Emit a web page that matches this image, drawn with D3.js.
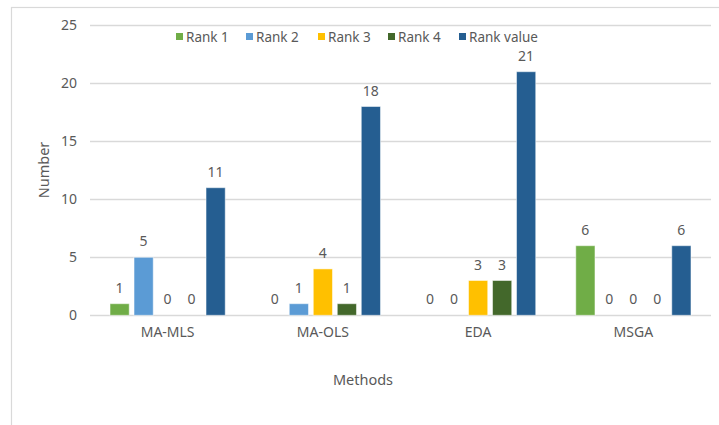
<!DOCTYPE html>
<html>
<head>
<meta charset="utf-8">
<script src="https://cdn.jsdelivr.net/npm/d3@7"></script>
<style>
  html, body { margin: 0; padding: 0; background: #fff; }
  svg { display: block; }
  text { font-family: "Noto Sans", "Open Sans", sans-serif; fill: #595959; }
</style>
</head>
<body>
<svg id="chart" width="719" height="425"></svg>
<script>
// Methods compared and the count of each ranking achieved
const methods = ["MA-MLS", "MA-OLS", "EDA", "MSGA"];
const seriesNames = ["Rank 1", "Rank 2", "Rank 3", "Rank 4", "Rank value"];
const rank1 = [1, 0, 0, 6];
const rank2 = [5, 1, 0, 0];
const rank3 = [0, 4, 3, 0];
const rank4 = [0, 1, 3, 0];
const rankValue = [11, 18, 21, 6];
const yTicks = [0, 5, 10, 15, 20, 25];
const colors = ["#70AD47", "#5B9BD5", "#FFC000", "#43682B", "#255E91"];

const seriesValues = [rank1, rank2, rank3, rank4, rankValue];

const svg = d3.select("#chart");
const W = 719, H = 425;
const plot = { left: 90, right: 711, top: 25.3, bottom: 315.3 };

// Outer chart frame (extends past the window on the right and bottom)
svg.append("rect")
  .attr("x", 11.5).attr("y", 7.5)
  .attr("width", W + 10).attr("height", H + 10)
  .attr("fill", "none").attr("stroke", "#D9D9D9").attr("stroke-width", 1.2);

const x0 = d3.scaleBand().domain(methods).range([plot.left, plot.right]).padding(0);
const groupWidth = 120;
const x1 = d3.scaleBand().domain(seriesNames).range([0, groupWidth]).paddingInner(0.2).paddingOuter(0.1);
const y = d3.scaleLinear().domain([0, 25]).range([plot.bottom, plot.top]);

// Gridlines
svg.append("g").selectAll("line").data(yTicks).join("line")
  .attr("x1", plot.left).attr("x2", plot.right)
  .attr("y1", d => Math.round(y(d)) + 0.5).attr("y2", d => Math.round(y(d)) + 0.5)
  .attr("stroke", "#D9D9D9").attr("stroke-width", 1.3);

// Y axis labels
const yAxis = d3.axisLeft(y).tickValues(yTicks).tickSize(0).tickPadding(0);
const gy = svg.append("g").attr("transform", `translate(${plot.left - 13},0)`).call(yAxis);
gy.select(".domain").remove();
gy.selectAll("text").attr("font-size", 14).attr("fill", "#595959")
  .style("font-family", '"Noto Sans", sans-serif');

// X axis category labels
const xAxis = d3.axisBottom(x0).tickSize(0).tickPadding(0);
const gx = svg.append("g").attr("transform", `translate(0,${plot.bottom + 12})`).call(xAxis);
gx.select(".domain").remove();
gx.selectAll("text").attr("font-size", 14).attr("fill", "#595959")
  .style("font-family", '"Noto Sans", sans-serif');

// Bars
const groups = svg.append("g").selectAll("g").data(methods).join("g")
  .attr("transform", d => `translate(${x0(d) + (x0.bandwidth() - groupWidth) / 2},0)`);

const cells = groups.selectAll("g").data((m, i) => seriesNames.map((s, j) => ({ s, j, v: seriesValues[j][i] })))
  .join("g");

cells.append("rect")
  .attr("x", d => x1(d.s))
  .attr("width", x1.bandwidth())
  .attr("y", d => y(d.v))
  .attr("height", d => y(0) - y(d.v))
  .attr("fill", d => colors[d.j])
  .attr("stroke", "#ffffff").attr("stroke-opacity", 0.5).attr("stroke-width", 1);

cells.append("text")
  .attr("x", d => x1(d.s) + x1.bandwidth() / 2)
  .attr("y", d => y(d.v) - 11)
  .attr("text-anchor", "middle")
  .attr("font-size", 14)
  .text(d => d.v);

// Legend
const legendX = [176, 246, 318, 388, 459];
const legend = svg.append("g").selectAll("g").data(seriesNames).join("g")
  .attr("transform", (d, i) => `translate(${legendX[i]},37)`);
legend.append("rect").attr("x", 0).attr("y", -4).attr("width", 7).attr("height", 7)
  .attr("fill", (d, i) => colors[i]);
legend.append("text").attr("x", 10).attr("y", 5).attr("font-size", 13.5).text(d => d);

// Axis titles
svg.append("text")
  .attr("transform", `translate(49,170) rotate(-90)`)
  .attr("text-anchor", "middle").attr("font-size", 14.5).text("Number");
svg.append("text")
  .attr("x", 363).attr("y", 385)
  .attr("text-anchor", "middle").attr("font-size", 14.5).text("Methods");
</script>
</body>
</html>
